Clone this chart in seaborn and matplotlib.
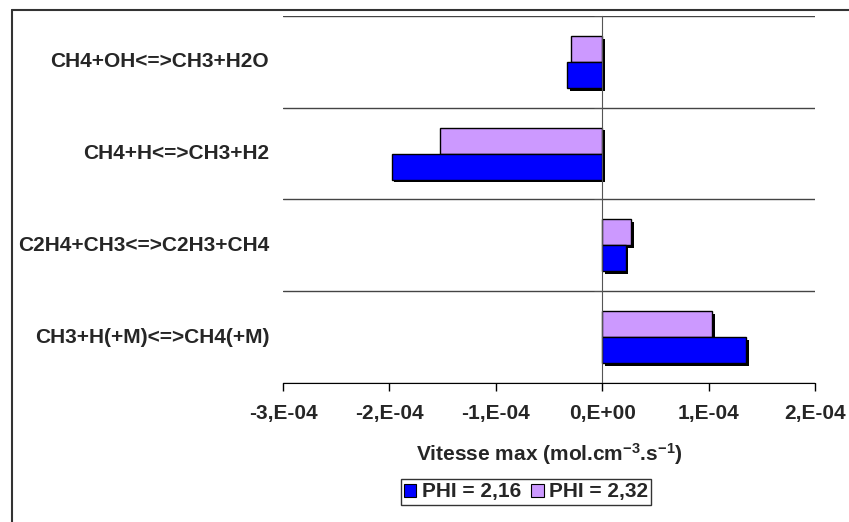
import pandas as pd
import matplotlib
matplotlib.use("Agg")
import matplotlib.pyplot as plt
import matplotlib.patheffects as pe
from matplotlib.lines import Line2D
import seaborn as sns

# Data
reactions = ["CH4+OH<=>CH3+H2O", "CH4+H<=>CH3+H2",
             "C2H4+CH3<=>C2H3+CH4", "CH3+H(+M)<=>CH4(+M)"]
phi_216 = [-3.3e-5, -1.98e-4, 2.2e-5, 1.35e-4]
phi_232 = [-2.9e-5, -1.52e-4, 2.7e-5, 1.03e-4]
series_names = ["PHI = 2,16", "PHI = 2,32"]
xticks = [-3e-4, -2e-4, -1e-4, 0, 1e-4, 2e-4]
xtick_labels = ["-3,E-04", "-2,E-04", "-1,E-04", "0,E+00", "1,E-04", "2,E-04"]

df = pd.DataFrame({
    "reaction": reactions * 2,
    "vitesse": phi_216 + phi_232,
    "serie": [series_names[0]] * 4 + [series_names[1]] * 4,
})

sns.set_style("white")
plt.rcParams["font.family"] = ["Liberation Sans", "DejaVu Sans"]
plt.rcParams["font.weight"] = "bold"
plt.rcParams["mathtext.fontset"] = "custom"
plt.rcParams["mathtext.rm"] = "Liberation Sans:bold"
plt.rcParams["mathtext.default"] = "rm"
plt.rcParams["axes.unicode_minus"] = False

fig = plt.figure(figsize=(8.49, 5.22), dpi=100)
ax = fig.add_axes([283 / 849, 1 - 383 / 522, 532 / 849, 367 / 522])

colors = {"PHI = 2,16": "#0000FF", "PHI = 2,32": "#CC99FF"}
sns.barplot(data=df, y="reaction", x="vitesse", hue="serie",
            hue_order=[series_names[1], series_names[0]], order=reactions,
            palette=colors, orient="h", width=0.565, edgecolor="black",
            linewidth=1, saturation=1, ax=ax)

# Excel style drop shadow on the bars
for bar in ax.patches:
    bar.set_path_effects([pe.SimplePatchShadow(offset=(2, -2), shadow_rgbFace="black", alpha=1),
                          pe.Normal()])

ax.set_xlim(-3e-4, 2e-4)
ax.set_ylim(3.5, -0.5)
ax.set_xticks(xticks, xtick_labels)
ax.tick_params(axis="x", direction="out", length=6, width=1, color="black",
               labelsize=15, pad=9, bottom=True)

# category axis sits at zero, with small ticks between categories
ax.spines["left"].set_position(("data", 0))
ax.spines["left"].set_color("#555555")
ax.spines["right"].set_visible(False)
ax.spines["top"].set_visible(False)
ax.spines["bottom"].set_color("black")
ax.set_yticks([0, 1, 2, 3], ["", "", "", ""])
ax.set_yticks([-0.5, 0.5, 1.5, 2.5, 3.5], minor=True)
ax.tick_params(axis="y", which="major", length=0)
ax.tick_params(axis="y", which="minor", direction="out", length=6, color="#555555", left=True)
ax.grid(axis="y", which="minor", color="#444444", linewidth=1)
ax.set_axisbelow(True)

for i, name in enumerate(reactions):
    ax.text(-0.026, i, name, transform=ax.get_yaxis_transform(), ha="right", va="center",
            fontsize=15, fontweight="bold")

ax.set_ylabel("")
ax.set_xlabel("Vitesse max (mol.cm$^{-3}$.s$^{-1}$)", fontsize=15,
              fontweight="bold", labelpad=13)

handles, labels = ax.get_legend_handles_labels()
leg = ax.legend(handles[::-1], labels[::-1], ncol=2, loc="center",
                bbox_to_anchor=(526 / 849, 1 - 492 / 522),
                bbox_transform=fig.transFigure, frameon=True, fancybox=False, edgecolor="black",
                handlelength=0.6, handleheight=0.6, handletextpad=0.25, columnspacing=0.5,
                borderpad=0.15, borderaxespad=0, prop={"size": 15, "weight": "bold"})
leg.get_frame().set_linewidth(1)
for h in leg.legend_handles:
    h.set_path_effects([])
    h.set_linewidth(0.8)

# outer chart border (left and top visible)
fig.add_artist(Line2D([12 / 849, 12 / 849], [0, 1 - 10 / 522], color="#333333", lw=1.5,
                      transform=fig.transFigure))
fig.add_artist(Line2D([12 / 849, 1], [1 - 10 / 522, 1 - 10 / 522], color="#333333", lw=1.5,
                      transform=fig.transFigure))

plt.savefig("out.png", dpi=100)
